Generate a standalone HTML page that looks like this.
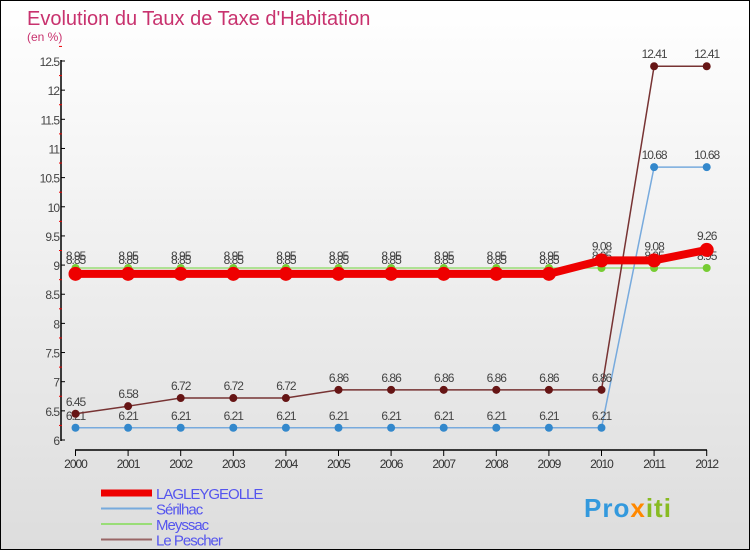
<!DOCTYPE html>
<html><head><meta charset="utf-8"><style>
body{margin:0}
#c{width:748px;height:548px;border:1px solid #000;background:linear-gradient(#fff,#ddd);position:relative;overflow:hidden;font-family:"Liberation Sans",sans-serif}
</style></head><body>
<div id="c">
<svg id="s" width="748" height="548" style="position:absolute;left:0;top:0">
<text x="26" y="24" font-size="20" fill="#c8326e">Evolution du Taux de Taxe d'Habitation</text>
<text x="26" y="40" font-size="12" fill="#c8326e">(en %)</text>
<g id="g"></g>
</svg>
</div>
<script>
const years=[2000,2001,2002,2003,2004,2005,2006,2007,2008,2009,2010,2011,2012];
const lagley=[8.85,8.85,8.85,8.85,8.85,8.85,8.85,8.85,8.85,8.85,9.08,9.08,9.26];
const serilhac=[6.21,6.21,6.21,6.21,6.21,6.21,6.21,6.21,6.21,6.21,6.21,10.68,10.68];
const meyssac=[8.95,8.95,8.95,8.95,8.95,8.95,8.95,8.95,8.95,8.95,8.95,8.95,8.95];
const pescher=[6.45,6.58,6.72,6.72,6.72,6.86,6.86,6.86,6.86,6.86,6.86,12.41,12.41];
const yTicks=[6,6.5,7,7.5,8,8.5,9,9.5,10,10.5,11,11.5,12,12.5];
const NS='http://www.w3.org/2000/svg',g=document.getElementById('g');
const X=i=>74.5+i*52.6, Y=v=>439-(v-6)*(379/6.5);
function mk(t,a,p){const e=document.createElementNS(NS,t);for(const k in a)e.setAttribute(k,a[k]);(p||g).appendChild(e);return e;}
let ax=mk('line',{x1:60,y1:59,x2:60,y2:440,stroke:'#000','stroke-width':1.5});

let bx=mk('line',{x1:74,y1:449,x2:706,y2:449,stroke:'#000','stroke-width':1.5});

yTicks.forEach(v=>{const y=Y(v);
 mk('line',{x1:60,y1:y,x2:64,y2:y,stroke:'#000'});
 mk('line',{x1:58,y1:Y(v+0.25),x2:61,y2:Y(v+0.25),stroke:'#e00'});
 const t=mk('text',{x:58,y:y+5,'font-size':12,fill:'#444','text-anchor':'end','letter-spacing':'-1'});t.textContent=String(v);
 });
years.forEach((yr,i)=>{mk('line',{x1:X(i),y1:449,x2:X(i),y2:455,stroke:'#000'});
 const t=mk('text',{x:X(i),y:467,'font-size':12,fill:'#333','text-anchor':'middle','letter-spacing':'-1'});t.textContent=yr;
 });
function series(d,col,w,r,mc,name,dy){
 const p=mk('polyline',{points:d.map((v,i)=>X(i)+','+Y(v)).join(' '),fill:'none',stroke:col,'stroke-width':w});
 
 d.forEach((v,i)=>{const c=mk('circle',{cx:X(i),cy:Y(v),r:r,fill:mc});
  
  const t=mk('text',{x:X(i),y:Y(v)+dy,'font-size':12,fill:'#444','text-anchor':'middle','letter-spacing':'-1'});t.textContent=v.toFixed(2).replace(/0$/,'').replace(/\.0$/,'');
  });
}
series(meyssac,'#99dd77',1.5,4,'#77cc33','meyssac',-8);
series(serilhac,'#77aadd',1.5,4,'#3388cc','serilhac',-8);
series(pescher,'#773333',1.5,4,'#661515','le-pescher',-8);
series(lagley,'#ee0000',8,7,'#ee0000','lagleygeolle',-10);
const leg=[['LAGLEYGEOLLE','#ee0000',7],['Sérilhac','#77aadd',2],['Meyssac','#99dd77',2],['Le Pescher','#996666',2]];
leg.forEach((l,i)=>{const y=492+i*15.5;
 mk('line',{x1:100,y1:y,x2:151,y2:y,stroke:l[1],'stroke-width':l[2]});
 const t=mk('text',{x:155,y:y+6,'font-size':15,fill:'#5555ee','letter-spacing':'-1'});t.textContent=l[0];
 });
const lg=mk('text',{x:583,y:516,'font-size':26,'font-weight':'bold','letter-spacing':'1'});

[['Pro','#3399dd'],['x','#ff8800'],['iti','#88bb22']].forEach(a=>{const s=mk('tspan',{fill:a[1]},lg);s.textContent=a[0];});
</script>
</body></html>
